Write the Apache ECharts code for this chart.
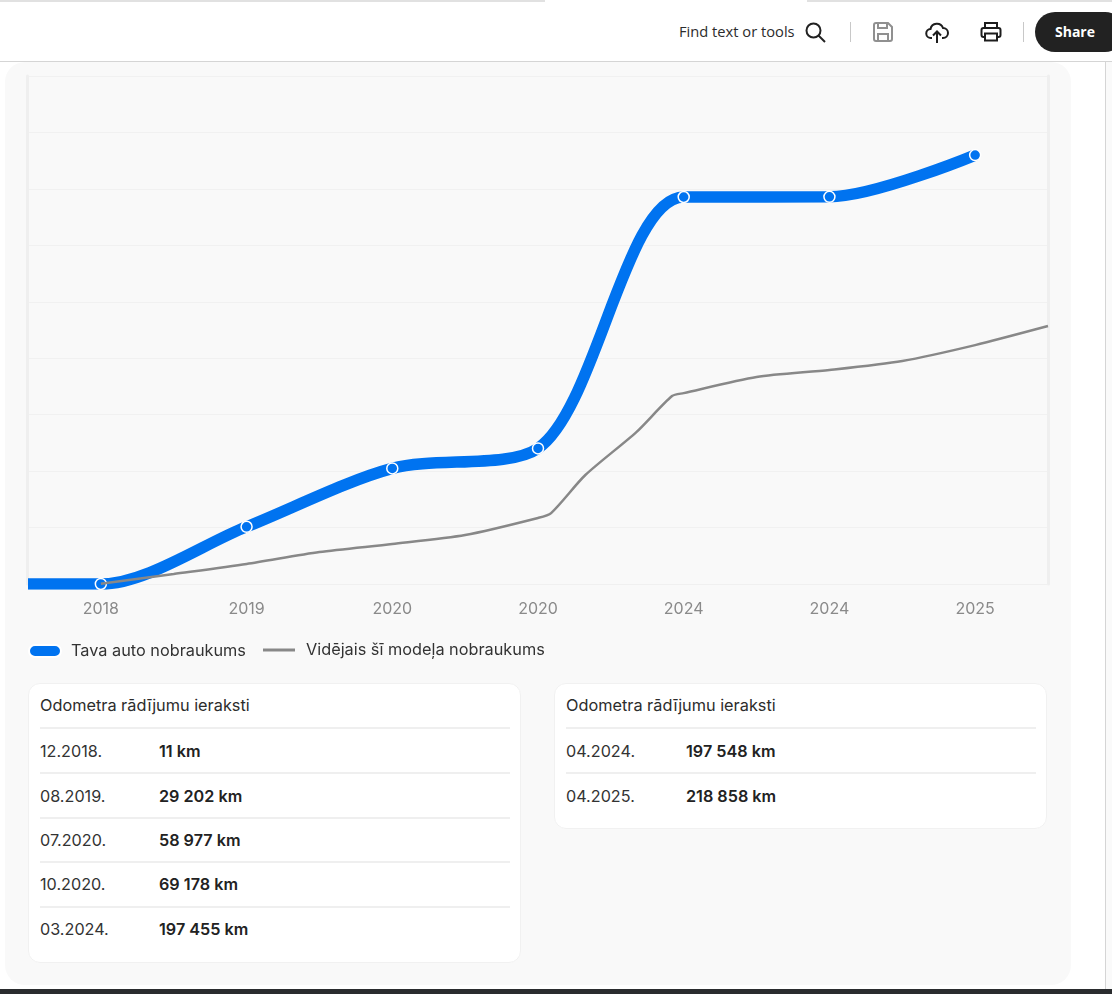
<!DOCTYPE html>
<html><head><meta charset="utf-8">
<script src="https://cdn.jsdelivr.net/npm/echarts@6/dist/echarts.min.js"></script>
<style>
html,body{margin:0;padding:0;background:#fff;overflow:hidden}
#page{position:relative;width:1112px;height:994px;overflow:hidden;background:#fff;font-family:Inter,sans-serif;color:#2a2a2a}
.abs{position:absolute}
#panel{left:5px;top:62px;width:1066px;height:923px;background:#f9f9f9;border-radius:20px}
#chart{left:0;top:0;width:1112px;height:994px}
.card{position:absolute;background:#fff;border:1px solid #f1f1f1;border-radius:12px;box-sizing:border-box}
.title{position:absolute;left:11px;top:10px;font-size:16.3px;line-height:22px;white-space:nowrap;color:#2c2c2c}
.sep{position:absolute;left:11px;width:470px;height:2px;background:#efefef}
.date{position:absolute;left:11px;font-size:16.2px;line-height:22px;color:#333;white-space:nowrap}
.val{position:absolute;left:130px;font-size:16.2px;line-height:22px;font-weight:600;color:#222;white-space:nowrap}
.hdr{font-family:"Open Sans",sans-serif;font-size:14.7px;color:#2c2c2c;white-space:nowrap}
</style></head>
<body>
<div id="page">
  <div class="abs" style="left:0;top:0;width:545px;height:2px;background:#e1e1e1"></div>
  <div class="abs" style="left:807px;top:0;width:305px;height:2px;background:#e1e1e1"></div>
  <div class="abs" style="left:0;top:61px;width:1112px;height:1px;background:#d5d5d5"></div>
  <div class="abs" style="left:1105px;top:62px;width:1px;height:927px;background:#d5d5d5"></div>
  <div class="abs" style="left:1106px;top:62px;width:6px;height:927px;background:#fafafa"></div>
  <div class="abs" style="left:0;top:989px;width:1112px;height:5px;background:#2a2c2e"></div>
  <div class="abs" id="panel"></div>

  <div class="abs hdr" style="left:679px;top:21px">Find text or tools</div>
  <svg class="abs" style="left:804px;top:21px" width="22" height="22" viewBox="0 0 22 22" fill="none" stroke="#222" stroke-width="2"><circle cx="9.5" cy="9.5" r="7"/><path d="M14.5 14.5L21 21"/></svg>
  <div class="abs" style="left:850px;top:22px;width:1px;height:20px;background:#c8c8c8"></div>
  <svg class="abs" style="left:872px;top:21px" width="22" height="22" viewBox="0 0 22 22" fill="none" stroke="#909090" stroke-width="2"><path d="M2 4a2 2 0 0 1 2-2h12l4 4v12a2 2 0 0 1-2 2H4a2 2 0 0 1-2-2z"/><path d="M6 2v5h9V2M6 20v-7h10v7"/></svg>
  <svg class="abs" style="left:925px;top:21px" width="24" height="24" viewBox="0 0 24 24" fill="none" stroke="#1d1d1d" stroke-width="2"><path d="M7 17H6a4.500 4.500 0 0 1-.5-9A6.500 6.500 0 0 1 18 7a5 5 0 0 1 0 10h-1"/><path d="M12 22V11M8 14.500L12 10.500L16 14.500"/></svg>
  <svg class="abs" style="left:980px;top:21px" width="22" height="22" viewBox="0 0 22 22" fill="none" stroke="#1d1d1d" stroke-width="2"><path d="M5 7V2h12v5"/><rect x="1.500" y="7" width="19" height="9" rx="2"/><rect x="5" y="12.500" width="12" height="7" fill="#fff"/></svg>
  <div class="abs" style="left:1023px;top:22px;width:1px;height:20px;background:#c8c8c8"></div>
  <div class="abs" style="left:1035px;top:12px;width:90px;height:40px;border-radius:20px;background:#222"></div>
  <div class="abs hdr" style="left:1055px;top:22px;color:#fff;font-weight:700;font-size:14px">Share</div>

  <div class="abs" id="chart"></div>
  <div id="cards"></div>
</div>
<script>
// Chart data. X positions are half-steps along the time axis (labels sit on odd steps).
const tickLabels = ['2018', '2019', '2020', '2020', '2024', '2024', '2025'];
const blueX = [0, 1, 3, 5, 7, 9, 11, 13];
const blueKm = [11, 11, 29202, 58977, 69178, 197455, 197548, 218858];
const grayX = [1, 2, 3, 4, 5, 6, 7, 7.18, 7.65, 8.35, 8.84, 9, 10, 11, 12, 13, 14];
const grayKm = [100, 5100, 10200, 16300, 20400, 25000, 33700, 36200, 55600, 77500, 95900, 97400, 105600, 109200, 113800, 121900, 131600];
const seriesNames = ['Tava auto nobraukums', 'Vidējais šī modeļa nobraukums'];
// Record tables
const tableTitle = 'Odometra rādījumu ieraksti';
const leftDates = ['12.2018.', '08.2019.', '07.2020.', '10.2020.', '03.2024.'];
const leftKm = ['11 km', '29 202 km', '58 977 km', '69 178 km', '197 455 km'];
const rightDates = ['04.2024.', '04.2025.'];
const rightKm = ['197 548 km', '218 858 km'];

const pairs = (xs, ys) => xs.map((x, i) => [x, ys[i]]);
const chart = echarts.init(document.getElementById('chart'), null, {renderer: 'canvas'});
const legendBase = {fontFamily: 'Inter', fontSize: 16.3, color: '#333'};
chart.setOption({
  animation: false,
  backgroundColor: 'transparent',
  grid: {left: 28, right: 64, top: 76, bottom: 410},
  xAxis: {
    type: 'value', min: 0, max: 14, interval: 1,
    splitLine: {show: false},
    axisTick: {show: false},
    axisLine: {onZero: false, lineStyle: {color: '#f0f0f0', width: 1}},
    axisLabel: {
      show: true, margin: 17, color: '#8a8a8a', fontFamily: 'Inter', fontSize: 16,
      showMinLabel: true, showMaxLabel: true, hideOverlap: false,
      formatter: v => (v % 2 === 1 ? tickLabels[(v - 1) / 2] : '')
    }
  },
  yAxis: [
    {type: 'value', min: 0, max: 259200, interval: 28800, position: 'left', offset: 1,
     axisLabel: {show: false}, axisTick: {show: false},
     axisLine: {show: true, onZero: false, lineStyle: {color: '#efefef', width: 3}},
     splitLine: {show: true, lineStyle: {color: '#f1f1f1', width: 1}}},
    {type: 'value', min: 0, max: 259200, interval: 28800, position: 'right',
     axisLabel: {show: false}, axisTick: {show: false},
     axisLine: {show: true, onZero: false, lineStyle: {color: '#efefef', width: 3}},
     splitLine: {show: false}}
  ],
  legend: [
    {left: 28, top: 643, itemWidth: 32, itemHeight: 12, itemGap: 0,
     icon: 'path://M6,0 H26 A6,6 0 0 1 26,12 H6 A6,6 0 0 1 6,0 Z',
     data: [seriesNames[0]], textStyle: {...legendBase, padding: [4, 0, 0, 5]}, padding: 0, selectedMode: false},
    {left: 263, top: 642, itemWidth: 32, itemHeight: 3, icon: 'rect', itemGap: 0,
     data: [seriesNames[1]], textStyle: {...legendBase, padding: [6, 0, 0, 6]}, padding: 0, selectedMode: false}
  ],
  series: [
    {name: seriesNames[0], type: 'line', data: pairs(blueX, blueKm),
     smooth: 0.3, color: '#0073f0', z: 2,
     lineStyle: {color: '#0073f0', width: 11.5, cap: 'butt'},
     symbol: (v, p) => (p.dataIndex === 0 ? 'none' : 'circle'), symbolSize: 11, showSymbol: true, showAllSymbol: true,
     itemStyle: {color: '#0073f0', borderColor: '#fff', borderWidth: 1.5}},
    {name: seriesNames[1], type: 'line', data: pairs(grayX, grayKm),
     smooth: 0.25, color: '#888888', z: 3, showSymbol: false, symbol: 'none',
     lineStyle: {color: '#888888', width: 2.5}}
  ]
});

function buildCard(left, top, h, dates, kms, seps, rows, valLeft) {
  const c = document.createElement('div');
  c.className = 'card';
  c.style.cssText = `left:${left}px;top:${top}px;width:493px;height:${h}px`;
  let html = `<div class="title">${tableTitle}</div>`;
  dates.forEach((d, i) => {
    html += `<div class="sep" style="top:${seps[i]}px"></div>`;
    html += `<div class="date" style="top:${rows[i]}px">${d}</div><div class="val" style="top:${rows[i]}px;left:${valLeft}px">${kms[i]}</div>`;
  });
  c.innerHTML = html;
  document.getElementById('cards').appendChild(c);
}
buildCard(28, 683, 280, leftDates, leftKm, [43, 88, 133, 177, 222], [56, 101, 145, 189, 234], 130);
buildCard(554, 683, 146, rightDates, rightKm, [43, 88], [56, 101], 131);
</script>
</body></html>
